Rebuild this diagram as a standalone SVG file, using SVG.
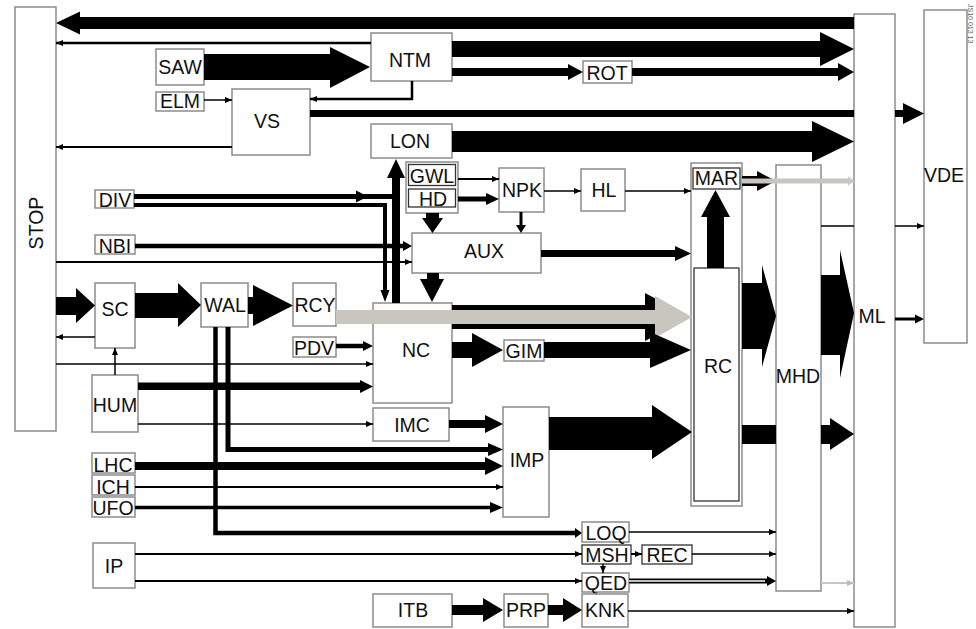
<svg xmlns="http://www.w3.org/2000/svg" width="976" height="629" viewBox="0 0 976 629">
<style>
.b{fill:#fff;stroke:#8c8c8c;stroke-width:1.5}
.k{fill:#fff;stroke:#333;stroke-width:1.3}
.t{font-family:"Liberation Sans",Arial,Helvetica,sans-serif;font-size:19.5px;text-anchor:middle;fill:#111}
.f{fill:#000;stroke:none}
.l{stroke:#000;fill:none}
.gl{stroke:#c9c6c0;fill:none}
.g{fill:#c9c6c0;stroke:none}
</style>
<defs>
<marker id="sm" markerUnits="userSpaceOnUse" markerWidth="7" markerHeight="6" refX="7" refY="3" orient="auto"><path d="M0,0 L7,3 L0,6 Z" fill="#000"/></marker>
<marker id="gm" markerUnits="userSpaceOnUse" markerWidth="7" markerHeight="6" refX="7" refY="3" orient="auto"><path d="M0,0 L7,3 L0,6 Z" fill="#bdbab4"/></marker>
</defs>
<rect width="976" height="629" fill="#fff"/>

<g id="STOP"><rect class="b" x="15" y="7" width="41" height="424"/><text class="t" transform="translate(43,223) rotate(-90)">STOP</text></g>
<g id="SAW"><rect class="b" x="156" y="49" width="48" height="36"/><text class="t" x="180" y="74">SAW</text></g>
<g id="ELM"><rect class="b" x="156" y="92" width="48" height="19"/><text class="t" x="180" y="107.5">ELM</text></g>
<g id="NTM"><rect class="b" x="371" y="33" width="81" height="48"/><text class="t" x="410" y="67">NTM</text></g>
<g id="ROT"><rect class="b" x="583" y="61" width="49" height="22"/><text class="t" x="607" y="80">ROT</text></g>
<g id="VS"><rect class="b" x="232" y="89" width="78" height="66"/><text class="t" x="267" y="128">VS</text></g>
<g id="LON"><rect class="b" x="371" y="124" width="81" height="34"/><text class="t" x="410" y="148">LON</text></g>
<g id="GWLHD"><rect class="b" x="406" y="162" width="52" height="51"/></g>
<g id="GWL"><rect class="k" x="408.5" y="164.5" width="47" height="21"/><text class="t" x="432" y="183">GWL</text></g>
<g id="HD"><rect class="k" x="408.5" y="189" width="47" height="18"/><text class="t" x="433" y="206">HD</text></g>
<g id="NPK"><rect class="b" x="499" y="168" width="45" height="44"/><text class="t" x="522" y="197">NPK</text></g>
<g id="HL"><rect class="b" x="581" y="169" width="44" height="42"/><text class="t" x="604" y="197">HL</text></g>
<g id="DIV"><rect class="b" x="95" y="190" width="39" height="18"/><text class="t" x="115" y="207">DIV</text></g>
<g id="NBI"><rect class="b" x="95" y="235" width="40" height="19"/><text class="t" x="115" y="253">NBI</text></g>
<g id="AUX"><rect class="b" x="412" y="233" width="129" height="40"/><text class="t" x="484" y="258">AUX</text></g>
<g id="SC"><rect class="b" x="95" y="283" width="40" height="65"/><text class="t" x="115" y="316">SC</text></g>
<g id="WAL"><rect class="b" x="201" y="283" width="47" height="44"/><text class="t" x="225" y="312">WAL</text></g>
<g id="RCY"><rect class="b" x="293" y="283" width="43" height="43"/><text class="t" x="315" y="312">RCY</text></g>
<g id="PDV"><rect class="b" x="293" y="337" width="43" height="20"/><text class="t" x="314" y="355">PDV</text></g>
<g id="NC"><rect class="b" x="373" y="303" width="79" height="100"/><text class="t" x="416" y="357">NC</text></g>
<g id="GIM"><rect class="b" x="504" y="340" width="40" height="21"/><text class="t" x="524" y="358">GIM</text></g>
<g id="HUM"><rect class="b" x="92" y="375" width="46" height="57"/><text class="t" x="115" y="412">HUM</text></g>
<g id="IMC"><rect class="b" x="373" y="408" width="76" height="33"/><text class="t" x="412" y="432">IMC</text></g>
<g id="IMP"><rect class="b" x="503" y="407" width="46" height="110"/><text class="t" x="527" y="467">IMP</text></g>
<g id="LHC"><rect class="b" x="92" y="453" width="43" height="20"/><text class="t" x="113" y="472">LHC</text></g>
<g id="ICH"><rect class="b" x="92" y="475" width="43" height="20"/><text class="t" x="113" y="494">ICH</text></g>
<g id="UFO"><rect class="b" x="92" y="497" width="43" height="20"/><text class="t" x="113" y="515">UFO</text></g>
<g id="IP"><rect class="b" x="93" y="543" width="42" height="45"/><text class="t" x="114" y="573">IP</text></g>
<g id="LOQ"><rect class="b" x="582" y="522" width="47" height="20"/><text class="t" x="606" y="540">LOQ</text></g>
<g id="MSH"><rect class="k" x="582" y="545" width="49" height="19"/><text class="t" x="607" y="562">MSH</text></g>
<g id="REC"><rect class="k" x="642" y="545" width="50" height="19"/><text class="t" x="667" y="562">REC</text></g>
<g id="QED"><rect class="b" x="582" y="573" width="47" height="19"/><text class="t" x="606" y="590">QED</text></g>
<g id="ITB"><rect class="b" x="373" y="594" width="79" height="33"/><text class="t" x="413" y="617">ITB</text></g>
<g id="PRP"><rect class="b" x="504" y="594" width="44" height="33"/><text class="t" x="526" y="617">PRP</text></g>
<g id="KNK"><rect class="b" x="582" y="594" width="46" height="33"/><text class="t" x="605" y="617">KNK</text></g>
<g id="RC"><rect class="b" x="691" y="163" width="51" height="343"/><rect class="k" x="694" y="268" width="45" height="233"/><text class="t" x="718" y="373">RC</text></g>
<g id="MAR"><rect class="k" x="693" y="168" width="47" height="21"/><text class="t" x="716.5" y="185">MAR</text></g>
<g id="MHD"><rect class="b" x="776" y="165" width="45" height="426"/><text class="t" x="798" y="383">MHD</text></g>
<g id="ML"><rect class="b" x="854" y="14" width="41" height="613"/><text class="t" x="872" y="323">ML</text></g>
<g id="VDE"><rect class="b" x="924" y="10" width="43" height="333"/><text class="t" x="944" y="182">VDE</text></g>
<text transform="translate(968,4) rotate(90)" font-family="Liberation Sans,Arial,sans-serif" font-size="7" fill="#666">JS10 013 13</text>

<g id="connectors">
<path class="f" d="M854,17 H80 V11.5 L56,23 L80,34.5 V29 H854 Z"/>
<line class="l" x1="371" y1="43" x2="56" y2="43" stroke-width="2.5" marker-end="url(#sm)"/>
<path class="f" d="M204,54 H330 V47 L370,67 L330,88 V80 H204 Z"/>
<path class="f" d="M452,41 H820 V32 L854,49 L820,66 V57 H452 Z"/>
<path class="f" d="M452,68 H568 V64 L583,72 L568,80 V76 H452 Z"/>
<path class="f" d="M632,68 H838 V63 L854,72 L838,81 V76 H632 Z"/>
<line class="l" x1="204" y1="100" x2="232" y2="100" stroke-width="1.5" marker-end="url(#sm)"/>
<path class="l" d="M412,81 V99 H310" stroke-width="2.5" marker-end="url(#sm)"/>
<rect class="f" x="310" y="110" width="544" height="7"/>
<path class="f" d="M895,110 H903 V103 L924,113.5 L903,124 V117 H895 Z"/>
<line class="l" x1="232" y1="147" x2="56" y2="147" stroke-width="2" marker-end="url(#sm)"/>
<path class="f" d="M452,131 H812 V121 L854,141.5 L812,162 V152 H452 Z"/>
<path class="f" d="M392,303 V178 H387 L396,159 L405,178 H400 V303 Z"/>
<rect class="f" x="134" y="194" width="258" height="5"/>
<path class="f" d="M356,190.5 L368,196.5 L356,202.5 Z"/>
<path class="l" d="M134,205 H385 V292" stroke-width="4"/>
<path class="f" d="M380.5,290 L385,302 L389.5,290 Z"/>
<line class="l" x1="135" y1="246" x2="404" y2="246" stroke-width="4.5"/>
<path class="f" d="M403,241 L412,246 L403,251 Z"/>
<line class="l" x1="56" y1="262" x2="412" y2="262" stroke-width="2" marker-end="url(#sm)"/>
<path class="f" d="M426,213 V218 H422 L432.5,233 L443,218 H439 V213 Z"/>
<line class="l" x1="521" y1="212" x2="521" y2="226" stroke-width="3"/>
<path class="f" d="M516,225 L521,233 L526,225 Z"/>
<line class="l" x1="458" y1="179" x2="499" y2="179" stroke-width="2" marker-end="url(#sm)"/>
<path class="f" d="M458,196.5 H486 V193 L499,199 L486,205 V201.5 H458 Z"/>
<line class="l" x1="544" y1="191" x2="581" y2="191" stroke-width="1.5" marker-end="url(#sm)"/>
<line class="l" x1="625" y1="191" x2="691" y2="191" stroke-width="1.5" marker-end="url(#sm)"/>
<path class="f" d="M427,273 V279 H420 L432,302 L444,279 H439 V273 Z"/>
<path class="f" d="M541,250 H675 V246 L691,253.5 L675,261 V257 H541 Z"/>
<path class="f" d="M707,268 V217 H701 L715.5,190 L730,217 H724 V268 Z"/>
<path class="f" d="M742,176 H757 V171 L776,181 L757,191 V186 H742 Z"/>
<line class="gl" x1="742" y1="181" x2="848" y2="181" stroke-width="5"/>
<path class="g" d="M848,176.5 L855,181 L848,185.5 Z"/>
<line class="l" x1="821" y1="226" x2="854" y2="226" stroke-width="1.5"/>
<line class="l" x1="895" y1="226" x2="924" y2="226" stroke-width="1.5" marker-end="url(#sm)"/>
<line class="l" x1="895" y1="319" x2="916" y2="319" stroke-width="3"/>
<path class="f" d="M915,314.5 L924,319 L915,323.5 Z"/>
<path class="f" d="M56,297 H76 V288 L95,305.5 L76,323 V315 H56 Z"/>
<path class="f" d="M135,293 H178 V283 L201,305 L178,327 V318 H135 Z"/>
<path class="f" d="M248,297 H253 V285 L293,305.5 L253,326 V314 H248 Z"/>
<path class="f" d="M336,313 H363 V311 L373,316.5 L363,322 V320 H336 Z"/>
<path class="f" d="M452,305 H645 V293 L690,317 L645,341 V329 H452 Z"/>
<path class="g" d="M336,310 H655 V296 L692,317 L655,338 V324 H336 Z"/>
<path class="f" d="M452,342 H472 V333 L503,350 L472,367 V358 H452 Z"/>
<path class="f" d="M544,342 H650 V332 L691,350 L650,368 V358 H544 Z"/>
<line class="l" x1="336" y1="346" x2="364" y2="346" stroke-width="4.5"/>
<path class="f" d="M363,341 L373,346 L363,351 Z"/>
<line class="l" x1="56" y1="364" x2="373" y2="364" stroke-width="1.5" marker-end="url(#sm)"/>
<line class="l" x1="95" y1="337" x2="56" y2="337" stroke-width="1.5" marker-end="url(#sm)"/>
<line class="l" x1="115" y1="375" x2="115" y2="348" stroke-width="1.5" marker-end="url(#sm)"/>
<path class="f" d="M138,382.5 H360 V380 L373,386.5 L360,393 V390 H138 Z"/>
<line class="l" x1="138" y1="424" x2="373" y2="424" stroke-width="1.5" marker-end="url(#sm)"/>
<path class="f" d="M449,420 H485 V415 L503,424 L485,433 V428 H449 Z"/>
<path class="l" d="M228,327 V449.5 H489" stroke-width="5"/>
<path class="f" d="M488,443 L503,449.5 L488,456 Z"/>
<path class="l" d="M215.5,327 V533 H576" stroke-width="4.5"/>
<path class="f" d="M575,528 L582,533 L575,538 Z"/>
<path class="f" d="M135,462 H485 V457 L503,466 L485,475 V470 H135 Z"/>
<line class="l" x1="135" y1="487" x2="503" y2="487" stroke-width="2" marker-end="url(#sm)"/>
<line class="l" x1="135" y1="507.5" x2="491" y2="507.5" stroke-width="3.5"/>
<path class="f" d="M490,502 L503,507.5 L490,513 Z"/>
<path class="f" d="M549,417 H652 V405 L692,432 L652,459 V450 H549 Z"/>
<rect class="f" x="742" y="425" width="34" height="19"/>
<path class="f" d="M821,425 H830 V418 L854,434 L830,450 V444 H821 Z"/>
<path class="f" d="M742,283 H762 V265 L776,316 L762,367 V349 H742 Z"/>
<path class="f" d="M821,275 H840 V250 L854,313 L840,378 V355 H821 Z"/>
<line class="l" x1="629" y1="532" x2="776" y2="532" stroke-width="1.5" marker-end="url(#sm)"/>
<line class="l" x1="135" y1="554" x2="582" y2="554" stroke-width="2" marker-end="url(#sm)"/>
<line class="l" x1="631" y1="554" x2="642" y2="554" stroke-width="2" marker-end="url(#sm)"/>
<line class="l" x1="692" y1="554" x2="776" y2="554" stroke-width="1.5" marker-end="url(#sm)"/>
<line class="l" x1="603" y1="564" x2="603" y2="573" stroke-width="1.5" marker-end="url(#sm)"/>
<line class="l" x1="135" y1="581" x2="582" y2="581" stroke-width="2" marker-end="url(#sm)"/>
<line class="l" x1="629" y1="581" x2="768" y2="581" stroke-width="5"/>
<line x1="629" y1="581" x2="765" y2="581" stroke="#fff" stroke-width="1.5"/>
<path class="f" d="M767,576 L776,581 L767,586 Z"/>
<line class="gl" x1="821" y1="583" x2="854" y2="583" stroke-width="2" marker-end="url(#gm)"/>
<path class="f" d="M452,605 H483 V598 L503,610 L483,622 V615 H452 Z"/>
<path class="f" d="M548,605 H563 V598 L582,610 L563,622 V615 H548 Z"/>
<line class="l" x1="628" y1="611" x2="854" y2="611" stroke-width="1.5" marker-end="url(#sm)"/>
</g>
</svg>
